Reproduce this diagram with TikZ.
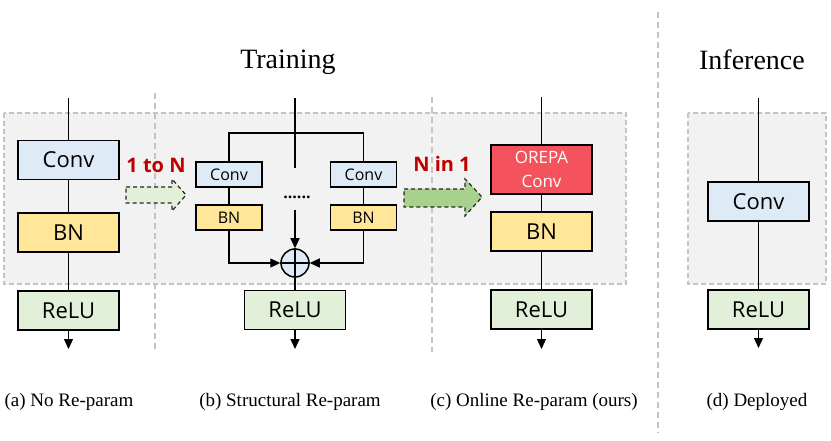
\documentclass[tikz,border=0pt]{standalone}
\usepackage{fontspec}
\setmainfont{Liberation Serif}
\newfontfamily\boxfont{Open Sans}
\usetikzlibrary{arrows.meta}
\definecolor{convc}{HTML}{DEEBF7}
\definecolor{bnc}{HTML}{FFE699}
\definecolor{reluc}{HTML}{E2F0D9}
\definecolor{orepac}{HTML}{F4525C}
\definecolor{bgc}{HTML}{F2F2F2}
\definecolor{bgline}{HTML}{C4C4C4}
\definecolor{darkred}{HTML}{C00000}
\definecolor{greenarrow}{HTML}{A9D18E}
\begin{document}
\begin{tikzpicture}[x=1pt,y=-1pt,
  blk/.style={draw=black, line width=1.5pt, inner sep=0pt, align=center},
  big/.style={blk, minimum width=101pt, minimum height=39pt, font=\boxfont\fontsize{22}{26}\selectfont},
  small/.style={blk, minimum width=66pt, minimum height=25pt, font=\boxfont\fontsize{16}{19}\selectfont},
  conn/.style={line width=1.3pt},
  arr/.style={conn, -{Triangle[length=10pt,width=9pt]}},
  region/.style={fill=bgc, draw=bgline, line width=1.2pt, dash pattern=on 5pt off 3pt},
  divider/.style={draw=bgline, line width=1.2pt, dash pattern=on 6pt off 4pt},
  fatarrow/.style={draw=black!85, line width=1.2pt, dash pattern=on 4pt off 3pt},
  redlabel/.style={text=darkred, font=\boxfont\bfseries\fontsize{20}{24}\selectfont},
  title/.style={anchor=base, font=\fontsize{28}{32}\selectfont},
  caption/.style={anchor=base, font=\fontsize{19}{22}\selectfont}
]
\useasboundingbox (0,0) rectangle (831,441);
% regions
\path[region] (4,113) rectangle (626,284);
\path[region] (688,113) rectangle (826,284);
% dividers
\path[divider] (155,93) -- (155,352);
\path[divider] (432,97) -- (432,352);
\path[divider] (658,12) -- (658,433);
% titles
\node[title] (ttrain) at (288,69) {Training};
\node[title] (tinf) at (752,70) {Inference};
% column a
\coordinate (atop) at (68.5,98);
\coordinate (abot) at (68.5,349);
\node[big, fill=convc] (conva) at (68.5,160) {Conv};
\node[big, fill=bnc] (bna) at (68.5,232.5) {BN};
\node[big, fill=reluc] (relua) at (68.5,310.5) {ReLU};
\draw[conn] (atop) -- (conva.north);
\draw[conn] (conva.south) -- (bna.north);
\draw[conn] (bna.south) -- (relua.north);
\draw[arr] (relua.south) -- (abot);
% arrow 1
\draw[fatarrow, fill=reluc] (126,187) -- (172,187) -- (172,179) -- (186,195) -- (172,211) -- (172,203) -- (126,203) -- cycle;
\node[redlabel] (lab1) at (156,165) {1 to N};
% column b
\coordinate (btop) at (295,98);
\coordinate (bsplit) at (295,133);
\coordinate (bmidtop) at (295,168);
\coordinate (bmidlow) at (295,210);
\coordinate (bbot) at (295,349);
\node[small, fill=convc] (convb1) at (229,174.5) {Conv};
\node[small, fill=bnc] (bnb1) at (229,217.5) {BN};
\node[small, fill=convc] (convb2) at (363.5,174.5) {Conv};
\node[small, fill=bnc] (bnb2) at (363.5,217.5) {BN};
\node[circle, draw=black, line width=1.5pt, fill=convc, minimum size=28pt, inner sep=0pt] (oplus) at (295,263) {};
\node[big, fill=reluc] (relub) at (295,310) {ReLU};
\node[font=\boxfont\bfseries\fontsize{16}{19}\selectfont, inner sep=0pt] (dots) at (297,197) {......};
\draw[conn] (btop) -- (bmidtop);
\draw[conn] (convb1.north) |- (bsplit) -| (convb2.north);
\draw[conn] (convb1.south) -- (bnb1.north);
\draw[conn] (convb2.south) -- (bnb2.north);
\draw[arr] (bnb1.south) |- (oplus.west);
\draw[arr] (bnb2.south) |- (oplus.east);
\draw[arr] (bmidlow) -- (oplus.north);
\draw[conn] (oplus.west) -- (oplus.east);
\draw[conn] (oplus.north) -- (oplus.south);
\draw[conn] (oplus.south) -- (relub.north);
\draw[arr] (relub.south) -- (bbot);
% arrow 2
\draw[fatarrow, fill=greenarrow] (404,189) -- (465,189) -- (465,179) -- (482,197) -- (465,216) -- (465,207) -- (404,207) -- cycle;
\node[redlabel] (lab2) at (442,164) {N in 1};
% column c
\coordinate (ctop) at (541.5,97);
\coordinate (cbot) at (541.5,349);
\node[blk, fill=orepac, minimum width=101pt, minimum height=49pt, text=white, font=\boxfont\fontsize{17}{24}\selectfont] (orepa) at (541.5,169.5) {OREPA\\Conv};
\node[big, fill=bnc] (bnc) at (541.5,231.5) {BN};
\node[big, fill=reluc] (reluc) at (541.5,309.5) {ReLU};
\draw[conn] (ctop) -- (orepa.north);
\draw[conn] (orepa.south) -- (bnc.north);
\draw[conn] (bnc.south) -- (reluc.north);
\draw[arr] (reluc.south) -- (cbot);
% column d
\coordinate (dtop) at (758.5,98);
\coordinate (dbot) at (758.5,348);
\node[big, fill=convc] (convd) at (758.5,201.5) {Conv};
\node[big, fill=reluc] (relud) at (758.5,309.5) {ReLU};
\draw[conn] (dtop) -- (convd.north);
\draw[conn] (convd.south) -- (relud.north);
\draw[arr] (relud.south) -- (dbot);
% captions
\node[caption] (capa) at (69,406) {(a) No Re-param};
\node[caption] (capb) at (290,406) {(b) Structural Re-param};
\node[caption] (capc) at (534,406) {(c) Online Re-param (ours)};
\node[caption] (capd) at (757,406) {(d) Deployed};
\end{tikzpicture}
\end{document}
